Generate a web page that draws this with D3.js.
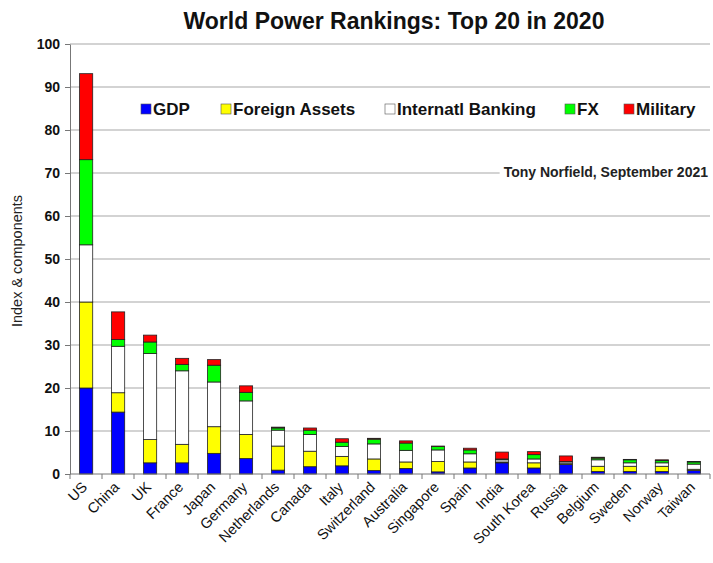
<!DOCTYPE html>
<html>
<head>
<meta charset="utf-8">
<script src="https://cdn.jsdelivr.net/npm/d3@7"></script>
<style>
  body { margin: 0; background: #fff; }
  text { font-family: "Liberation Sans", Arial, sans-serif; }
</style>
</head>
<body>
<svg id="chart"></svg>
<script>
const countries = ['US','China','UK','France','Japan','Germany','Netherlands','Canada','Italy','Switzerland',
  'Australia','Singapore','Spain','India','South Korea','Russia','Belgium','Sweden','Norway','Taiwan'];
const gdp      = [20.0, 14.4, 2.6, 2.6, 4.8, 3.6, 0.9, 1.7, 1.9, 0.8, 1.3, 0.5, 1.4, 2.6, 1.4, 2.2, 0.6, 0.6, 0.6, 0.8];
const foreignAssets = [20.0, 4.5, 5.4, 4.3, 6.2, 5.6, 5.6, 3.6, 2.2, 2.7, 1.5, 2.4, 1.4, 0.2, 1.2, 0.2, 1.2, 1.2, 1.2, 0.3];
const banking  = [13.3, 10.8, 20.0, 17.1, 10.4, 7.8, 3.7, 3.9, 2.3, 3.5, 2.7, 2.7, 1.9, 0.5, 0.9, 0.4, 1.5, 0.8, 0.8, 1.2];
const fx       = [19.8, 1.6, 2.7, 1.5, 3.9, 2.0, 0.5, 1.0, 1.0, 1.1, 1.7, 0.8, 0.9, 0.2, 1.0, 0.1, 0.4, 0.7, 0.5, 0.5];
const military = [20.0, 6.4, 1.6, 1.4, 1.3, 1.5, 0.2, 0.5, 0.8, 0.2, 0.5, 0.1, 0.4, 1.6, 0.7, 1.3, 0.2, 0.1, 0.2, 0.1];
const seriesNames = ['GDP','Foreign Assets','Internatl Banking','FX','Military'];
const seriesColors = ['#0000ff','#ffff00','#ffffff','#00ff00','#ff0000'];
const yTicks = [0,10,20,30,40,50,60,70,80,90,100];

const width = 713, height = 563;
const margin = {top: 44, right: 3, bottom: 89, left: 70};
const innerW = width - margin.left - margin.right;
const innerH = height - margin.top - margin.bottom;

const svg = d3.select('#chart').attr('width', width).attr('height', height);

const table = countries.map((c, i) => ({
  country: c,
  'GDP': gdp[i], 'Foreign Assets': foreignAssets[i], 'Internatl Banking': banking[i],
  'FX': fx[i], 'Military': military[i]
}));
const stacked = d3.stack().keys(seriesNames)(table);

const xscale = d3.scaleBand().domain(countries).range([0, innerW]).paddingInner(0.59).paddingOuter(0.3);
const yscale = d3.scaleLinear().domain([0, 100]).range([innerH, 0]);
const color = d3.scaleOrdinal().domain(seriesNames).range(seriesColors);

const chart = svg.append('g').attr('transform', `translate(${margin.left},${margin.top})`);

// gridlines
chart.append('g').selectAll('line')
  .data(yTicks.filter(d => d > 0))
  .join('line')
  .attr('x1', 0).attr('x2', innerW)
  .attr('y1', d => yscale(d)).attr('y2', d => yscale(d))
  .attr('stroke', '#c4c4c4').attr('stroke-width', 1.6);

// bars
chart.append('g').selectAll('g')
  .data(stacked)
  .join('g')
  .attr('fill', d => color(d.key))
  .selectAll('rect')
  .data(d => d)
  .join('rect')
  .attr('x', d => xscale(d.data.country))
  .attr('y', d => yscale(d[1]))
  .attr('width', xscale.bandwidth())
  .attr('height', d => yscale(d[0]) - yscale(d[1]))
  .attr('stroke', '#222').attr('stroke-width', 0.8);

// y axis
const yaxis = d3.axisLeft(yscale).tickValues(yTicks).tickSize(5).tickPadding(5).tickSizeOuter(0);
const yg = chart.append('g').call(yaxis);
yg.select('.domain').attr('stroke', '#777');
yg.selectAll('.tick line').attr('stroke', '#777');
yg.selectAll('.tick text').style('font-size', '14px').style('font-weight', 'bold')
  .style('font-family', '"Liberation Sans", Arial, sans-serif').attr('fill', '#111');

// x axis
const xg = chart.append('g').attr('transform', `translate(0,${innerH})`);
xg.append('line').attr('x1', 0).attr('x2', innerW).attr('stroke', '#777');
xg.selectAll('.xtick')
  .data(d3.range(countries.length + 1))
  .join('line')
  .attr('class', 'xtick')
  .attr('x1', i => i * innerW / countries.length).attr('x2', i => i * innerW / countries.length)
  .attr('y1', 0).attr('y2', 5)
  .attr('stroke', '#777');
xg.selectAll('.xlabel')
  .data(countries)
  .join('text')
  .attr('class', 'xlabel')
  .attr('transform', d => `translate(${xscale(d) + xscale.bandwidth() / 2 + 2},${14}) rotate(-45)`)
  .attr('text-anchor', 'end')
  .style('font-size', '14.5px')
  .attr('fill', '#111')
  .text(d => d);

// y label
svg.append('text')
  .attr('transform', `translate(22,${margin.top + innerH / 2 + 2}) rotate(-90)`)
  .attr('text-anchor', 'middle')
  .style('font-size', '14.5px')
  .attr('fill', '#222')
  .text('Index & components');

// title
svg.append('text')
  .attr('x', 394).attr('y', 29)
  .attr('text-anchor', 'middle')
  .style('font-size', '23px').style('font-weight', 'bold')
  .attr('fill', '#111')
  .text('World Power Rankings: Top 20 in 2020');

// legend
const legendX = [141, 221, 385, 565, 624];
const legend = svg.append('g').selectAll('g')
  .data(seriesNames)
  .join('g')
  .attr('transform', (d, i) => `translate(${legendX[i]},103)`);
legend.append('rect')
  .attr('width', 10).attr('height', 10).attr('y', 1)
  .attr('fill', d => color(d)).attr('stroke', '#555').attr('stroke-width', 0.6);
legend.append('text')
  .attr('x', 12).attr('y', 12)
  .style('font-size', '17px').style('font-weight', 'bold')
  .attr('fill', '#111')
  .text(d => d);

// source note
const note = svg.append('g');
const noteText = note.append('text')
  .attr('x', 708).attr('y', 177)
  .attr('text-anchor', 'end')
  .style('font-size', '14px').style('font-weight', 'bold')
  .attr('fill', '#222')
  .text('Tony Norfield, September 2021');
const bb = noteText.node().getBBox();
note.insert('rect', 'text')
  .attr('x', bb.x - 4).attr('y', bb.y).attr('width', bb.width + 8).attr('height', bb.height)
  .attr('fill', '#fff');
</script>
</body>
</html>
